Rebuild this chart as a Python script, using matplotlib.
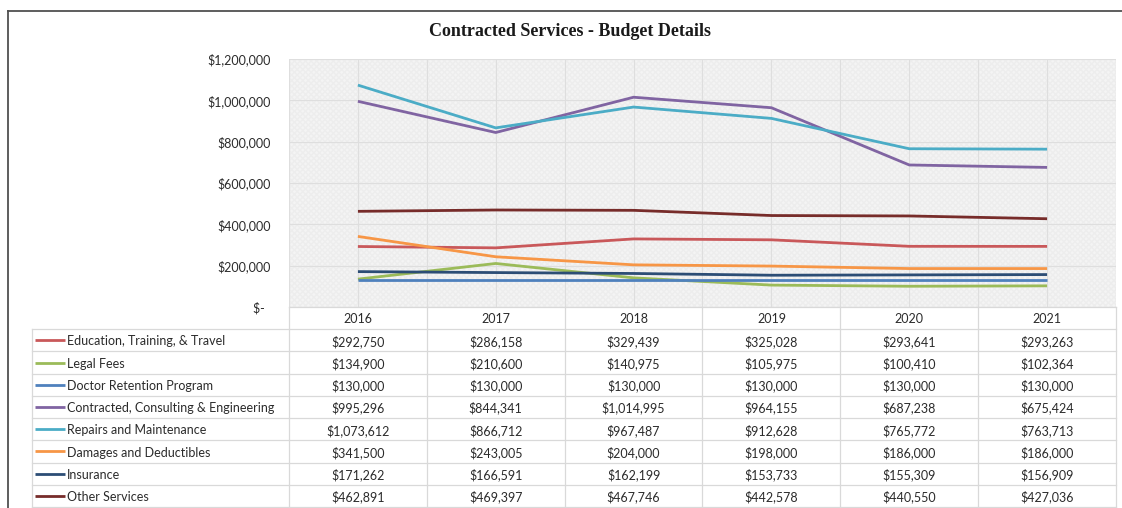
"""Contracted Services - Budget Details: line chart with Excel-style data table."""
import matplotlib
matplotlib.use("Agg")
import matplotlib.pyplot as plt
from matplotlib.lines import Line2D
from matplotlib.patches import Rectangle
import numpy as np

years = ["2016", "2017", "2018", "2019", "2020", "2021"]

education = [292750, 286158, 329439, 325028, 293641, 293263]
legal = [134900, 210600, 140975, 105975, 100410, 102364]
doctor = [130000, 130000, 130000, 130000, 130000, 130000]
contracted = [995296, 844341, 1014995, 964155, 687238, 675424]
repairs = [1073612, 866712, 967487, 912628, 765772, 763713]
damages = [341500, 243005, 204000, 198000, 186000, 186000]
insurance = [171262, 166591, 162199, 153733, 155309, 156909]
other = [462891, 469397, 467746, 442578, 440550, 427036]

names = ["Education, Training, & Travel", "Legal Fees", "Doctor Retention Program",
         "Contracted, Consulting & Engineering", "Repairs and Maintenance",
         "Damages and Deductibles", "Insurance", "Other Services"]
series = [education, legal, doctor, contracted, repairs, damages, insurance, other]
colors = ["#C9585A", "#9BBB59", "#4F81BD", "#8064A2", "#4BACC6", "#F79646",
          "#2C4D75", "#772C2A"]

yticks = [0, 200000, 400000, 600000, 800000, 1000000, 1200000]

plt.rcParams["font.family"] = ["Lato", "DejaVu Sans"]
TXT = "#2b2b2b"
GRID = "#dedede"

W, H = 1122, 508
fig = plt.figure(figsize=(W / 100, H / 100), dpi=100)


def box(x0, y0, x1, y1):
    return [x0 / W, 1 - y1 / H, (x1 - x0) / W, (y1 - y0) / H]


# outer chart border (cropped on right/bottom)
fig.add_artist(Line2D([8 / W, 8 / W], [0, 1 - 11 / H], transform=fig.transFigure,
                      color="#505050", lw=1.3))
fig.add_artist(Line2D([8 / W, 1], [1 - 11 / H, 1 - 11 / H], transform=fig.transFigure,
                      color="#505050", lw=1.3))

fig.text(570 / W, 1 - 32 / H, "Contracted Services - Budget Details",
         family="Liberation Serif", weight="bold", fontsize=13, color="#1a1a1a",
         ha="center", va="center")

# plot area
ax = fig.add_axes(box(289, 59, 1116, 307))
ax.set_facecolor("#f4f4f4")
ax.add_patch(Rectangle((0, 0), 1, 1, transform=ax.transAxes, facecolor="none",
                       edgecolor="#ededed", hatch="xxxxxx", lw=0, zorder=0))
x = np.arange(len(years))
for vals, c in zip(series, colors):
    ax.plot(x, vals, color=c, lw=2, solid_capstyle="butt", zorder=3)

ax.set_xlim(-0.5, len(years) - 0.5)
ax.set_ylim(0, 1200000)
ax.set_xticks(np.arange(-0.5, len(years), 0.5))
ax.set_xticklabels([])
ax.set_yticks(yticks)
ax.set_yticklabels([f"${v:,.0f}" if v else "$-  " for v in yticks])
ax.tick_params(length=0, pad=13, labelsize=9, labelcolor=TXT)
ax.grid(True, color=GRID, lw=0.8, zorder=1)
ax.set_axisbelow(True)
for s in ax.spines.values():
    s.set_visible(False)

# data table
tax = fig.add_axes(box(289, 307, 1116, 507))
tax.set_xlim(-0.5, len(years) - 0.5)
tax.set_ylim(len(series) + 1, 0)
tax.axis("off")

step = (1116 - 289) / len(years)


def px2x(px):
    return (px - 289) / step - 0.5


left = px2x(32)
nrow = len(series) + 1
line_kw = dict(color="#d9d9d9", lw=0.9, clip_on=False)
tax.plot([-0.5, len(years) - 0.5], [0, 0], **line_kw)
for r in range(1, nrow + 1):
    tax.plot([left, len(years) - 0.5], [r, r], **line_kw)
for k in range(len(years) + 1):
    tax.plot([k - 0.5, k - 0.5], [0, nrow], **line_kw)
tax.plot([left, left], [1, nrow], **line_kw)

for j, yr in enumerate(years):
    tax.text(j, 0.55, yr, ha="center", va="center", fontsize=9, color=TXT)

for i, (name, vals, c) in enumerate(zip(names, series, colors)):
    yc = i + 1.55
    tax.plot([px2x(35), px2x(65)], [yc - 0.05, yc - 0.05], color=c, lw=2,
             clip_on=False, solid_capstyle="butt")
    tax.text(px2x(67), yc, name, ha="left", va="center", fontsize=9, color=TXT,
             clip_on=False)
    for j, v in enumerate(vals):
        tax.text(j, yc, f"${v:,.0f}", ha="center", va="center", fontsize=9, color=TXT)

fig.savefig("out.png", dpi=100)
